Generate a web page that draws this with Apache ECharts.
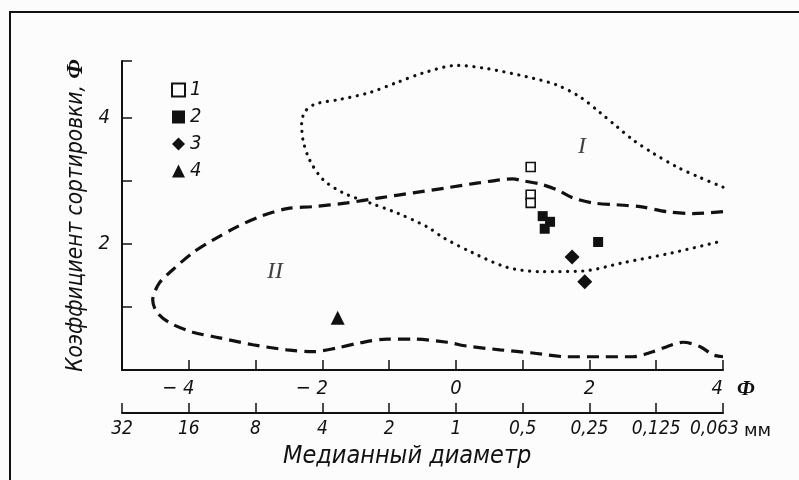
<!DOCTYPE html>
<html>
<head>
<meta charset="utf-8">
<script src="https://cdn.jsdelivr.net/npm/echarts@6/dist/echarts.min.js"></script>
<style>
html,body{margin:0;padding:0;background:#fcfcfc;}
#chart{width:799px;height:480px;}
</style>
</head>
<body>
<div id="chart"></div>
<script>
// ---- data (phi units on x, sorting coefficient on y) ----
const phiLabels = {'-4': '− 4', '-2': '− 2', '0': '0', '2': '2', '4': '4'};
const mmLabels = ['32', '16', '8', '4', '2', '1', '0,5', '0,25', '0,125', '0,063'];
const yLabels = {'2': '2', '4': '4'};
const legendNames = ['1', '2', '3', '4'];
const xUnit = 'Ф';
const mmUnit = 'мм';
const xTitle = 'Медианный диаметр';
const yTitle = 'Коэффициент сортировки, {b|Ф}';

const points1 = [[1.12, 3.22], [1.12, 2.78], [1.12, 2.65]];
const points2 = [[1.30, 2.44], [1.41, 2.35], [1.33, 2.24], [2.13, 2.03]];
const points3 = [[1.74, 1.79], [1.93, 1.40]];
const points4 = [[-1.77, 0.83]];

const contourI = [
  [4.00, 2.90], [3.66, 3.05], [3.31, 3.22], [2.95, 3.44], [2.65, 3.65], [2.41, 3.86],
  [2.16, 4.08], [1.86, 4.33], [1.51, 4.52], [1.06, 4.65], [0.46, 4.78], [0.01, 4.83],
  [-0.49, 4.71], [-0.88, 4.56], [-1.29, 4.40], [-1.74, 4.29], [-2.10, 4.22], [-2.25, 4.11],
  [-2.31, 3.92], [-2.29, 3.65], [-2.19, 3.33], [-1.99, 3.02], [-1.69, 2.81], [-1.29, 2.65],
  [-0.88, 2.49], [-0.43, 2.27], [-0.19, 2.10], [0.25, 1.86], [0.76, 1.63], [1.26, 1.56],
  [1.90, 1.57], [2.50, 1.70], [3.25, 1.86], [4.00, 2.05]
];

const contourII = [
  [4.00, 2.51], [3.55, 2.48], [3.16, 2.51], [2.76, 2.59], [2.41, 2.62], [2.05, 2.65],
  [1.75, 2.73], [1.51, 2.86], [1.26, 2.95], [1.00, 3.00], [0.85, 3.03], [0.36, 2.97],
  [-0.13, 2.89], [-0.64, 2.81], [-1.14, 2.73], [-1.63, 2.65], [-2.14, 2.59], [-2.53, 2.56],
  [-2.94, 2.43], [-3.28, 2.27], [-3.64, 2.06], [-3.94, 1.86], [-4.24, 1.59], [-4.44, 1.38],
  [-4.54, 1.11], [-4.48, 0.92], [-4.29, 0.75], [-3.94, 0.60], [-3.54, 0.51], [-3.04, 0.40],
  [-2.53, 0.32], [-2.14, 0.29], [-1.78, 0.35], [-1.44, 0.43], [-1.03, 0.49], [-0.64, 0.49],
  [-0.13, 0.44], [0.16, 0.38], [0.66, 0.32], [1.15, 0.27], [1.66, 0.21], [2.16, 0.21],
  [2.65, 0.21], [2.95, 0.29], [3.16, 0.37], [3.40, 0.44], [3.66, 0.37], [3.85, 0.24], [4.00, 0.21]
];

const regionLabels = [
  {name: 'I', value: [1.89, 3.54]},
  {name: 'II', value: [-2.71, 1.56]}
];

// ---- styling ----
const INK = '#111111';
const FONT = "'DejaVu Sans Condensed', 'DejaVu Sans', sans-serif";
const SERIF = "'Liberation Serif', 'DejaVu Serif', serif";
const MM_OFFSET = 43;

const chart = echarts.init(document.getElementById('chart'), null, {renderer: 'canvas'});

const option = {
  backgroundColor: '#fcfcfc',
  animation: false,
  grid: {left: 122, right: 76, top: 61, bottom: 110, containLabel: false, outerBoundsMode: 'none'},
  graphic: [{
    id: 'frame', type: 'rect', silent: true, z: -10,
    shape: {x: 10, y: 12, width: 820, height: 500},
    style: {fill: 'none', stroke: INK, lineWidth: 2}
  }],
  legend: {
    data: legendNames,
    orient: 'vertical',
    left: 166, top: 75,
    itemWidth: 13, itemHeight: 13, itemGap: 7,
    textStyle: {fontFamily: FONT, fontStyle: 'italic', fontSize: 20, color: INK}
  },
  xAxis: [{
    type: 'value', min: -5, max: 4, interval: 1,
    position: 'bottom',
    axisLine: {onZero: false, lineStyle: {color: INK, width: 2}},
    axisTick: {inside: true, length: 10, lineStyle: {color: INK, width: 1.5}},
    splitLine: {show: false},
    axisLabel: {
      margin: 9, fontFamily: FONT, fontStyle: 'italic', fontSize: 20, color: INK,
      alignMaxLabel: 'right',
      formatter: v => {
        const s = phiLabels[String(v)];
        if (!s) return '';
        return v < 0 ? s + '{h|− }' : s;
      },
      rich: {h: {color: 'rgba(0,0,0,0)', fontFamily: FONT, fontStyle: 'italic', fontSize: 20}}
    }
  }, {
    type: 'value', min: -5, max: 4, interval: 1,
    position: 'bottom', offset: MM_OFFSET,
    axisLine: {onZero: false, lineStyle: {color: INK, width: 2}},
    axisTick: {inside: true, length: 10, lineStyle: {color: INK, width: 1.5}},
    splitLine: {show: false},
    axisLabel: {
      margin: 7, fontFamily: FONT, fontStyle: 'italic', fontSize: 19, color: INK,
      hideOverlap: false,
      formatter: v => {
        const i = Math.round(v + 5);
        const s = mmLabels[i] || '';
        return i === mmLabels.length - 1 ? s + '{h|000}' : s;
      },
      rich: {h: {color: 'rgba(0,0,0,0)', fontFamily: FONT, fontStyle: 'italic', fontSize: 10}}
    }
  }],
  yAxis: {
    type: 'value', min: 0, max: 4.9, interval: 1,
    axisLine: {onZero: false, lineStyle: {color: INK, width: 2}},
    axisTick: {inside: true, length: 10, lineStyle: {color: INK, width: 1.5}},
    splitLine: {show: false},
    axisLabel: {
      margin: 12, fontFamily: FONT, fontStyle: 'italic', fontSize: 20, color: INK,
      formatter: v => yLabels[String(v)] || ''
    },
    name: yTitle,
    nameLocation: 'middle', nameRotate: 90, nameGap: 32,
    nameTextStyle: {
      fontFamily: FONT, fontStyle: 'italic', fontSize: 22.5, color: INK,
      rich: {b: {fontFamily: SERIF, fontWeight: 'bold', fontStyle: 'italic', fontSize: 23, color: INK}}
    }
  },
  series: [
    {
      type: 'line', name: 'contourI', data: contourI, smooth: 0.3, symbol: 'none', silent: true,
      lineStyle: {color: INK, width: 3.2, type: [0.1, 7.5], cap: 'round'}, z: 1
    },
    {
      type: 'line', name: 'contourII', data: contourII, smooth: 0.3, symbol: 'none', silent: true,
      lineStyle: {color: INK, width: 3.2, type: [12, 7]}, z: 1
    },
    {
      type: 'scatter', name: '1', data: points1, symbol: 'rect', symbolSize: 9,
      itemStyle: {color: '#fcfcfc', borderColor: INK, borderWidth: 1.6, opacity: 1}, z: 3
    },
    {
      type: 'scatter', name: '2', data: points2, symbol: 'rect', symbolSize: 10,
      itemStyle: {color: INK, opacity: 1}, z: 3
    },
    {
      type: 'scatter', name: '3', data: points3, symbol: 'diamond', symbolSize: 15,
      itemStyle: {color: INK, opacity: 1}, z: 3
    },
    {
      type: 'scatter', name: '4', data: points4, symbol: 'triangle', symbolSize: 14,
      itemStyle: {color: INK, opacity: 1}, z: 3
    },
    {
      type: 'scatter', name: 'regions', data: regionLabels, symbolSize: 0, silent: true,
      label: {
        show: true, position: 'inside', formatter: p => p.name,
        fontFamily: SERIF, fontStyle: 'italic', fontSize: 24, color: INK
      }, z: 2
    }
  ]
};

chart.setOption(option);

// axis unit labels and the x title, placed from the axis scale
const xEnd = chart.convertToPixel({xAxisIndex: 0}, 4);
const xMid = chart.convertToPixel({xAxisIndex: 0}, -0.73);
const yBase = chart.convertToPixel({yAxisIndex: 0}, 0);
chart.setOption({
  graphic: [
    {
      id: 'phiUnit', type: 'text', silent: true,
      x: xEnd + 14, y: yBase + 20,
      style: {text: xUnit, fill: INK, fontFamily: SERIF, fontWeight: 'bold', fontStyle: 'italic', fontSize: 21, align: 'left', verticalAlign: 'middle'}
    },
    {
      id: 'mmUnit', type: 'text', silent: true,
      x: xEnd + 21, y: yBase + MM_OFFSET + 18,
      style: {text: mmUnit, fill: INK, fontFamily: "'DejaVu Sans'", fontSize: 18, align: 'left', verticalAlign: 'middle'}
    },
    {
      id: 'xTitle', type: 'text', silent: true,
      x: xMid, y: yBase + MM_OFFSET + 43,
      style: {text: xTitle, fill: INK, fontFamily: FONT, fontStyle: 'italic', fontSize: 25, align: 'center', verticalAlign: 'middle'}
    }
  ]
});
</script>
</body>
</html>
